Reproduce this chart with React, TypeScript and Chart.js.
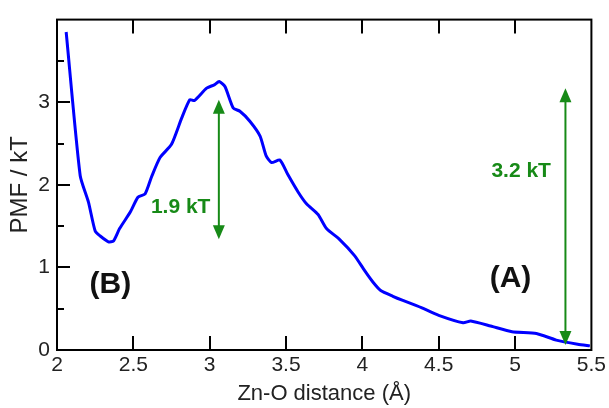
import React, { useEffect, useRef } from "react";
import { Chart, registerables } from "chart.js";

Chart.register(...registerables);

const distances = [2.06, 2.152, 2.206, 2.25, 2.283, 2.337, 2.37, 2.41, 2.48, 2.53, 2.577, 2.62, 2.675, 2.75, 2.817, 2.87, 2.9, 2.98, 3.03, 3.062, 3.1, 3.154, 3.198, 3.263, 3.33, 3.37, 3.405, 3.46, 3.51, 3.58, 3.634, 3.71, 3.765, 3.85, 3.95, 4.015, 4.07, 4.12, 4.2, 4.265, 4.35, 4.39, 4.5, 4.66, 4.71, 4.84, 4.98, 5.14, 5.27, 5.41, 5.49];
const pmf = [3.85, 2.11, 1.79, 1.44, 1.38, 1.31, 1.32, 1.47, 1.67, 1.85, 1.89, 2.1, 2.33, 2.49, 2.81, 3.03, 3.02, 3.17, 3.21, 3.25, 3.19, 2.93, 2.89, 2.77, 2.59, 2.35, 2.27, 2.3, 2.13, 1.91, 1.77, 1.64, 1.47, 1.34, 1.14, 0.96, 0.82, 0.72, 0.65, 0.6, 0.54, 0.51, 0.42, 0.33, 0.35, 0.29, 0.22, 0.2, 0.12, 0.07, 0.05];

const xTickValues = [2, 2.5, 3, 3.5, 4, 4.5, 5, 5.5];
const yTickValues = [0, 1, 2, 3];
const yMinorValues = [0.5, 1.5, 2.5, 3.5];

// Arrow annotations: [x, yFrom, yTo]
const arrowX = [3.06, 5.33];
const arrowLow = [1.34, 0.06];
const arrowHigh = [3.03, 3.17];
const arrowLabels = ["1.9 kT", "3.2 kT"];
const arrowLabelX = [2.81, 5.04];
const arrowLabelY = [1.73, 2.17];

const stateLabels = ["(B)", "(A)"];
const stateLabelX = [2.35, 4.97];
const stateLabelY = [0.79, 0.86];

const FONT = "'Liberation Sans', Arial, Helvetica, sans-serif";
const GREEN = "#178a17";

const decorPlugin = {
  id: "decor",
  afterDatasetsDraw(chart: any) {
    const ctx = chart.ctx;
    const xs = chart.scales.x;
    const ys = chart.scales.y;
    const { left, right, top, bottom } = chart.chartArea;
    ctx.save();
    // frame
    ctx.strokeStyle = "#000";
    ctx.lineWidth = 2;
    ctx.strokeRect(left, top, right - left, bottom - top);
    // x ticks inward, bottom and top
    ctx.beginPath();
    xTickValues.forEach((v) => {
      const px = Math.round(xs.getPixelForValue(v));
      if (v === xs.min || v === xs.max) return;
      ctx.moveTo(px, bottom);
      ctx.lineTo(px, bottom - 14);
      ctx.moveTo(px, top);
      ctx.lineTo(px, top + 14);
    });
    yTickValues.forEach((v) => {
      const py = Math.round(ys.getPixelForValue(v));
      if (v === ys.min) return;
      ctx.moveTo(left, py);
      ctx.lineTo(left + 13, py);
    });
    yMinorValues.forEach((v) => {
      const py = Math.round(ys.getPixelForValue(v));
      ctx.moveTo(left, py);
      ctx.lineTo(left + 7, py);
    });
    ctx.stroke();

    // arrows
    ctx.strokeStyle = GREEN;
    ctx.fillStyle = GREEN;
    ctx.lineWidth = 2;
    arrowX.forEach((ax, i) => {
      const px = xs.getPixelForValue(ax);
      const y1 = ys.getPixelForValue(arrowHigh[i]);
      const y2 = ys.getPixelForValue(arrowLow[i]);
      ctx.beginPath();
      ctx.moveTo(px, y1 + 8);
      ctx.lineTo(px, y2 - 8);
      ctx.stroke();
      ctx.beginPath();
      ctx.moveTo(px, y1);
      ctx.lineTo(px - 6, y1 + 14);
      ctx.lineTo(px + 6, y1 + 14);
      ctx.closePath();
      ctx.fill();
      ctx.beginPath();
      ctx.moveTo(px, y2);
      ctx.lineTo(px - 6, y2 - 14);
      ctx.lineTo(px + 6, y2 - 14);
      ctx.closePath();
      ctx.fill();
    });
    ctx.font = `bold 21px ${FONT}`;
    ctx.textAlign = "center";
    ctx.textBaseline = "middle";
    arrowLabels.forEach((t, i) => {
      ctx.fillText(t, xs.getPixelForValue(arrowLabelX[i]), ys.getPixelForValue(arrowLabelY[i]));
    });
    ctx.fillStyle = "#111";
    ctx.font = `bold 30px ${FONT}`;
    stateLabels.forEach((t, i) => {
      ctx.fillText(t, xs.getPixelForValue(stateLabelX[i]), ys.getPixelForValue(stateLabelY[i]));
    });
    ctx.restore();
  },
};

export default function App() {
  const ref = useRef<HTMLCanvasElement>(null);
  useEffect(() => {
    if (!ref.current) return;
    const chart = new Chart(ref.current, {
      type: "line",
      data: {
        datasets: [
          {
            data: distances.map((d, i) => ({ x: d, y: pmf[i] })),
            borderColor: "#0000ff",
            borderWidth: 3,
            pointRadius: 0,
            tension: 0.2,
            fill: false,
          },
        ],
      },
      options: {
        animation: false,
        responsive: false,
        maintainAspectRatio: false,
        layout: { padding: { top: 15, right: 17, left: 0, bottom: 0 } },
        plugins: { legend: { display: false }, tooltip: { enabled: false } },
        scales: {
          x: {
            type: "linear",
            min: 2,
            max: 5.5,
            afterBuildTicks: (s: any) => {
              s.ticks = xTickValues.map((v) => ({ value: v }));
            },
            afterFit: (s: any) => {
              s.height = 58;
            },
            grid: { display: false, drawTicks: false },
            border: { display: false },
            ticks: {
              color: "#222",
              font: { family: FONT, size: 21 },
              padding: 3,
              maxRotation: 0,
              autoSkip: false,
              callback: (v: any) => String(v),
            },
            title: {
              display: true,
              text: "Zn-O distance (Å)",
              color: "#222",
              font: { family: FONT, size: 22 },
              padding: { top: 0, bottom: 1 },
            },
          },
          y: {
            type: "linear",
            min: 0,
            max: 4,
            afterBuildTicks: (s: any) => {
              s.ticks = yTickValues.map((v) => ({ value: v }));
            },
            afterFit: (s: any) => {
              s.width = 57;
            },
            grid: { display: false, drawTicks: false },
            border: { display: false },
            ticks: {
              color: "#222",
              font: { family: FONT, size: 21 },
              padding: 7,
              callback: (v: any) => String(v),
            },
            title: {
              display: true,
              text: "PMF / kT",
              color: "#222",
              font: { family: FONT, size: 24 },
              padding: { top: 6, bottom: 0 },
            },
          },
        },
      },
      plugins: [decorPlugin],
    });
    return () => chart.destroy();
  }, []);
  return (
    <div style={{ position: "fixed", left: 0, top: 0, width: 609, height: 408, background: "#fff" }}>
      <canvas ref={ref} width={609} height={408} style={{ width: 609, height: 408 }} />
    </div>
  );
}
